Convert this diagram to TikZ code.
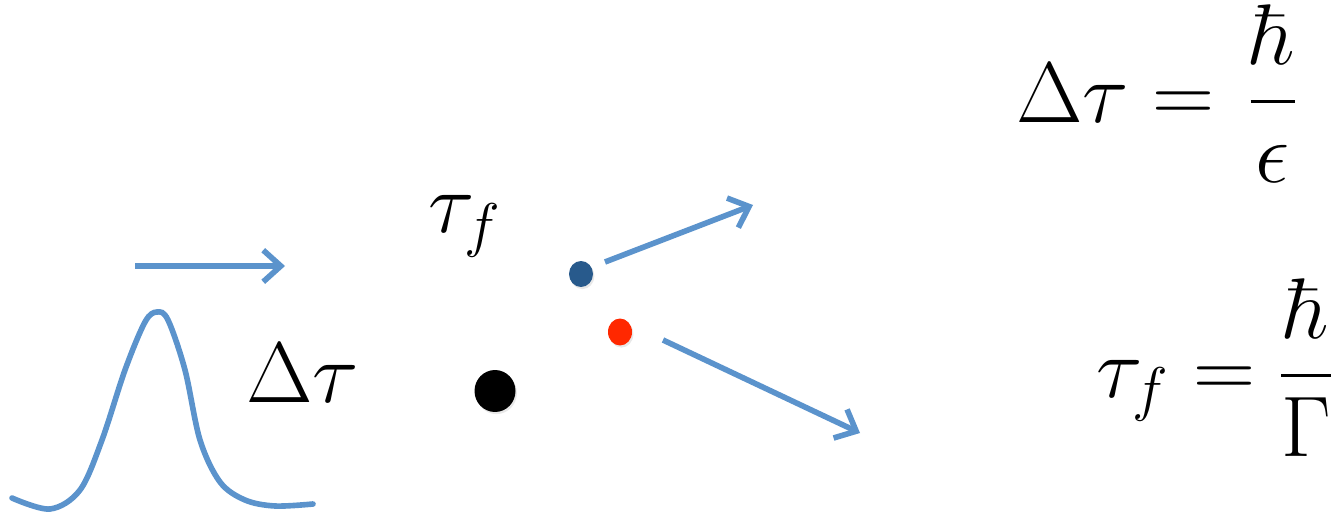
\RequirePackage{fix-cm}
\documentclass[tikz,border=0pt]{standalone}
\usetikzlibrary{arrows.meta,shapes.geometric,shadows}
\definecolor{arrowblue}{RGB}{91,147,204}
\definecolor{dotblue}{RGB}{40,90,140}
\definecolor{dotred}{RGB}{255,40,0}
\begin{document}
\begin{tikzpicture}[x=0.02cm,y=-0.02cm,
  flow/.style={draw=arrowblue, line width=3.2pt, -{Straight Barb[length=10pt,width=18pt]}},
  pdot/.style={ellipse, fill=#1, draw=none, inner sep=0pt,
    drop shadow={opacity=0.18,shadow xshift=0.8pt,shadow yshift=-1.2pt}},
  mathlabel/.style={inner sep=0pt, anchor=base west, font=\fontsize{49}{59}\selectfont}]
\useasboundingbox (0,0) rectangle (1343,517);
% pulse
\draw[arrowblue, line width=3.2pt, line cap=round]
  plot[smooth, tension=0.55] coordinates {(12,498) (50,509) (80,490) (102,440) (125,370) (145,322) (157,312) (168,320) (185,370) (200,440) (220,482) (245,500) (275,506) (313,504)};
% arrows
\coordinate (h1) at (135,266);
\coordinate (h2) at (285,266);
\draw[flow] (h1) -- (h2);
\coordinate (u1) at (605,262);
\coordinate (u2) at (753,205);
\draw[flow] (u1) -- (u2);
\coordinate (l1) at (663,340);
\coordinate (l2) at (860,433);
\draw[flow] (l1) -- (l2);
% dots
\node[pdot=black, minimum width=0.82cm, minimum height=0.84cm] (bk) at (495,391) {};
\node[pdot=dotblue, minimum width=0.48cm, minimum height=0.52cm] (bl) at (581,274) {};
\node[pdot=dotred, minimum width=0.48cm, minimum height=0.54cm] (rd) at (620,332) {};
% labels
\node[mathlabel] (tf) at (428,233) {$\tau_f$};
\node[mathlabel] (dt) at (246,402) {$\Delta\tau$};
\node[mathlabel] (eq1) at (1016,123) {$\displaystyle \Delta\tau = \mkern2mu {\hbar \above 2pt \epsilon}$};
\node[mathlabel] (eq2) at (1096,397) {$\displaystyle \tau_f = {\hbar \above 2pt \Gamma}$};
\end{tikzpicture}
\end{document}
